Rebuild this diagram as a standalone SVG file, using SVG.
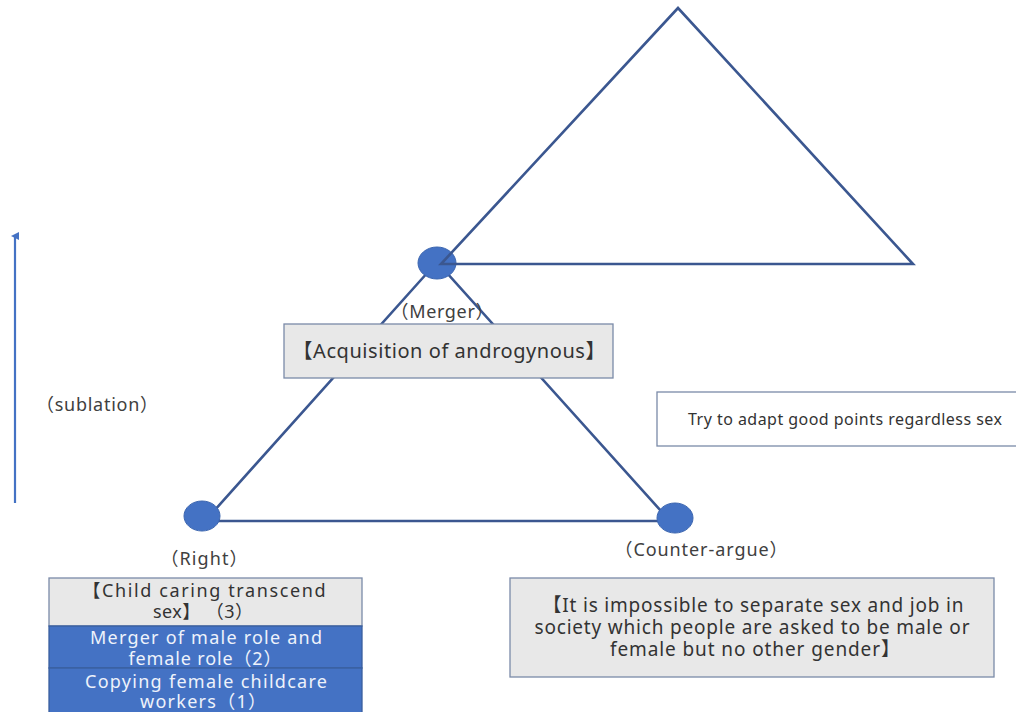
<svg xmlns="http://www.w3.org/2000/svg" width="1016" height="712" viewBox="0 0 1016 712">
<defs>
<style>
.tri{fill:none;stroke:#3b5790;stroke-width:2.6;stroke-linejoin:miter}
.dot{fill:#4472c4;stroke:#3c66b0;stroke-width:1}
.lbl{font-family:"Noto Sans","Noto Sans CJK JP",sans-serif;fill:#404040;text-anchor:middle}
.dk{fill:#333333}
.gbox{fill:#e8e8e8;stroke:#7a8aa8;stroke-width:1.3}
.wbox{fill:#ffffff;stroke:#7a8aa8;stroke-width:1.3}
.bbox{fill:#4472c4;stroke:#3a5f9f;stroke-width:1.3}
.wt{font-family:"Noto Sans","Noto Sans CJK JP",sans-serif;fill:#eef2fb;text-anchor:middle}
</style>
<marker id="ah" markerWidth="8" markerHeight="8" refX="4" refY="4" orient="auto" markerUnits="userSpaceOnUse">
<path d="M0,8 L4,0 L8,8 Z" fill="#4472c4"/>
</marker>
</defs>
<rect width="1016" height="712" fill="#ffffff"/>
<g id="connectors">
<polygon class="tri" points="437,262 205,521 670,521"/>
<line x1="15" y1="503" x2="15" y2="236" stroke="#4472c4" stroke-width="2.2" marker-end="url(#ah)"/>
</g>
<g id="node-merger">
<ellipse class="dot" cx="437" cy="263" rx="19" ry="16"/>
<polygon class="tri" points="678,8 441,264 913,264"/>
<text class="lbl" x="442" y="318" font-size="18" textLength="103" lengthAdjust="spacing">（Merger）</text>
</g>
<g id="node-right">
<ellipse class="dot" cx="202" cy="516" rx="18" ry="15"/>
<text class="lbl" x="204" y="565" font-size="18" textLength="87" lengthAdjust="spacing">（Right）</text>
</g>
<g id="node-counter">
<ellipse class="dot" cx="675" cy="518" rx="18" ry="15"/>
<text class="lbl" x="701" y="556" font-size="18" textLength="173" lengthAdjust="spacing">（Counter-argue）</text>
</g>
<g id="node-sublation">
<text class="lbl" x="97" y="411" font-size="18" textLength="122" lengthAdjust="spacing">（sublation）</text>
</g>
<g id="node-acquisition">
<rect class="gbox" x="284" y="324" width="329" height="54"/>
<text class="lbl dk" x="449" y="358" font-size="20" textLength="313" lengthAdjust="spacing">【Acquisition of androgynous】</text>
</g>
<g id="node-adapt">
<rect class="wbox" x="657" y="392" width="370" height="54"/>
<text class="lbl dk" x="845" y="425" font-size="16" textLength="314" lengthAdjust="spacing">Try to adapt good points regardless sex</text>
</g>
<g id="node-counter-box">
<rect class="gbox" x="510" y="578" width="484" height="99"/>
<text class="lbl dk" x="753" y="612" font-size="19" textLength="421" lengthAdjust="spacing">【It is impossible to separate sex and job in</text>
<text class="lbl dk" x="752" y="634" font-size="19" textLength="435" lengthAdjust="spacing">society which people are asked to be male or</text>
<text class="lbl dk" x="755" y="656" font-size="19" textLength="290" lengthAdjust="spacing">female but no other gender】</text>
</g>
<g id="node-stack">
<rect class="gbox" x="49" y="578" width="313" height="48"/>
<text class="lbl dk" x="204" y="597" font-size="18" textLength="243" lengthAdjust="spacing">【Child caring transcend</text>
<text class="lbl dk" x="203" y="618" font-size="18" textLength="100" lengthAdjust="spacing">sex】 （3）</text>
<rect class="bbox" x="49" y="626" width="313" height="42"/>
<text class="wt" x="206" y="644" font-size="18" textLength="232" lengthAdjust="spacing">Merger of male role and</text>
<text class="wt" x="205" y="665" font-size="18" textLength="153" lengthAdjust="spacing">female role（2）</text>
<rect class="bbox" x="49" y="668" width="313" height="50"/>
<text class="wt" x="206" y="688" font-size="18" textLength="242" lengthAdjust="spacing">Copying female childcare</text>
<text class="wt" x="203" y="708" font-size="18" textLength="126" lengthAdjust="spacing">workers（1）</text>
</g>
</svg>
